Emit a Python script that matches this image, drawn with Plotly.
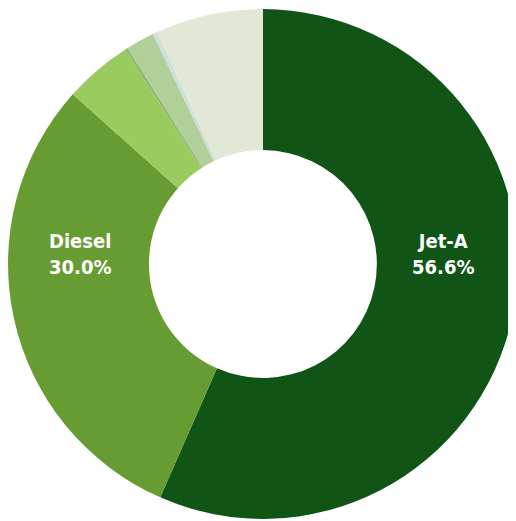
import plotly.graph_objects as go

labels = ["Jet-A", "Diesel", "Gasoline", "Other A", "Other B", "Other C", "Other D"]
values = [56.6, 30.0, 4.3, 0.2, 1.8, 0.3, 6.8]
colors = ["#105416", "#679c33", "#9acb5f", "#8fb870", "#b1cf99", "#cfdfd9", "#e1e9d6"]
# label positions (paper coords) for the two labelled slices
label_pos = {"Jet-A": (0.843, 0.528), "Diesel": (0.1395, 0.528)}

total = sum(values)

fig = go.Figure(go.Pie(
    labels=labels,
    values=values,
    hole=0.447,
    sort=False,
    direction="clockwise",
    rotation=0,
    domain=dict(x=[0.0, 0.988], y=[0.0192, 0.998]),
    marker=dict(colors=colors, line=dict(width=0)),
    textinfo="none",
    showlegend=False,
    hoverinfo="label+percent",
))

for lab, val in zip(labels, values):
    if lab in label_pos:
        x, y = label_pos[lab]
        fig.add_annotation(
            x=x, y=y, xref="paper", yref="paper",
            xanchor="center", yanchor="middle",
            text=f"{lab}<br>{val / total * 100:.1f}%",
            showarrow=False,
            font=dict(color="white", size=20, family="DejaVu Sans Condensed, Lato, sans-serif", weight=600),
            align="center",
        )

fig.update_layout(
    width=516, height=521,
    margin=dict(l=0, r=0, t=0, b=0),
    paper_bgcolor="white",
    plot_bgcolor="white",
)

fig.write_html("out.html")
